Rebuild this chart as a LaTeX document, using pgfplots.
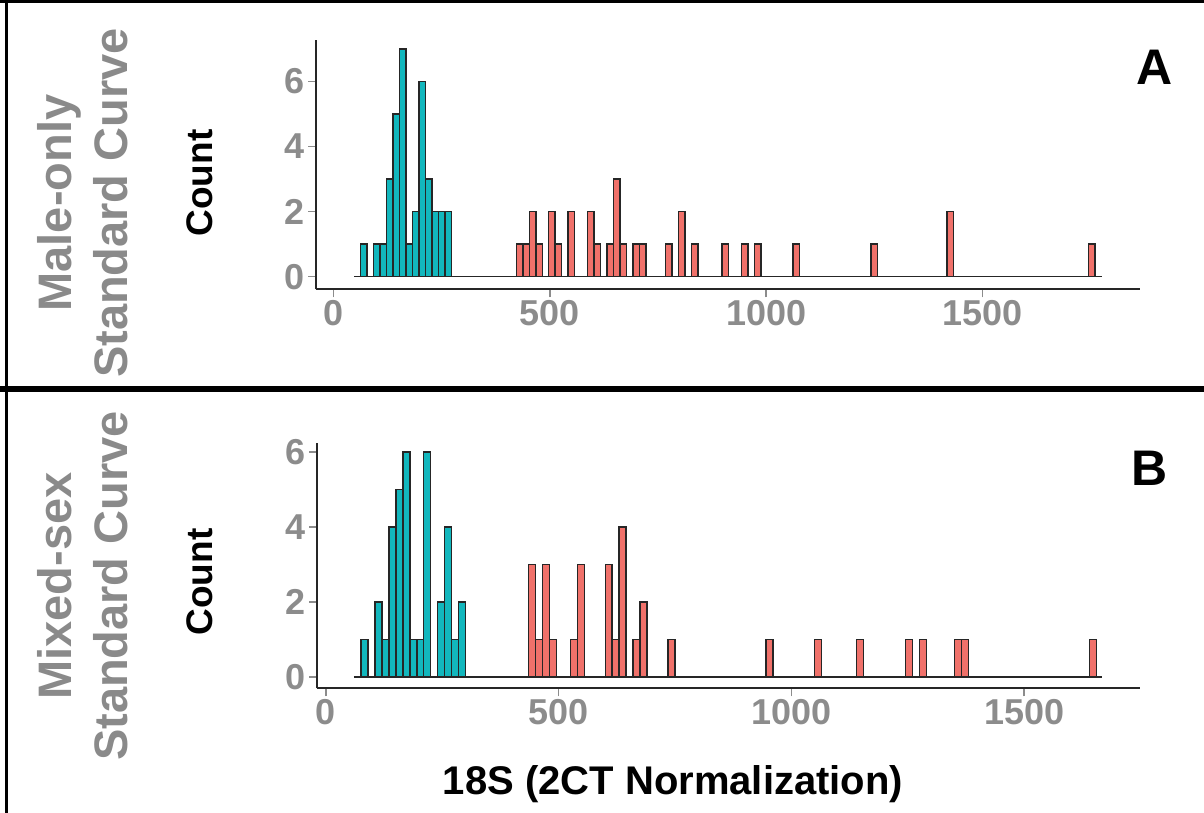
\documentclass[border=0pt]{standalone}
\usepackage{fontspec}
\setmainfont{Liberation Sans}
\usepackage{pgfplots}
\pgfplotsset{compat=1.18}
\usepackage{pgfplotstable}

\definecolor{tealbar}{RGB}{18,183,189}
\definecolor{redbar}{RGB}{240,113,106}
\definecolor{ticktext}{RGB}{140,140,140}
\definecolor{sidetext}{RGB}{138,138,138}

% panel A: male-only standard curve (bin centres, counts)
\pgfplotstableread{
x n
70 1
100 1
115 1
130 3
145 5
160 7
175 1
190 2
205 6
220 3
235 2
250 2
265 2
}\maleblue
\pgfplotstableread{
x n
430 1
445 1
460 2
475 1
505 2
520 1
550 2
595 2
610 1
640 1
655 3
670 1
700 1
715 1
775 1
805 2
835 1
905 1
950 1
980 1
1070 1
1250 1
1425 2
1752 1
}\malered

% panel B: mixed-sex standard curve
\pgfplotstableread{
x n
82.5 1
112.5 2
127.5 1
142.5 4
157.5 5
172.5 6
187.5 1
202.5 1
217.5 6
247.5 2
262.5 4
277.5 1
292.5 2
}\mixblue
\pgfplotstableread{
x n
442.5 3
457.5 1
472.5 3
487.5 1
532.5 1
547.5 3
607.5 3
622.5 1
637.5 4
667.5 1
682.5 2
742.5 1
952.5 1
1057.5 1
1147.5 1
1252.5 1
1282.5 1
1357.5 1
1372.5 1
1647.5 1
}\mixred

\pgfplotsset{
  histpanel/.style={
    scale only axis, anchor=south west,
    axis x line*=bottom, axis y line*=left,
    axis line style={-, black!85, line width=2pt},
    tick style={ticktext, line width=1.5pt},
    major tick length=8pt,
    tick align=outside,
    xtick={0,500,1000,1500}, ytick={0,2,4,6},
    /pgf/number format/assume math mode=true,
    /pgf/number format/1000 sep={},
    ticklabel style={font=\bfseries\fontsize{36}{36}\selectfont, text=ticktext},
    clip=false,
  },
  hbars/.style={ybar, bar width=15, bar shift=0pt, draw=black!85, line width=1.5pt},
}

\begin{document}
\begin{tikzpicture}
\useasboundingbox (0,0) rectangle (1204pt,-813pt);

% frame and separator
\draw[line width=3pt] (0,-1.5pt) -- (1204pt,-1.5pt);
\draw[line width=3pt] (6pt,0) -- (6pt,-813pt);
\draw[line width=6pt] (0,-388.5pt) -- (1204pt,-388.5pt);

% panel A
\begin{axis}[histpanel, at={(316pt,-289.3pt)}, width=824pt, height=249.3pt,
  xmin=-40.4, xmax=1864, ymin=-0.39, ymax=7.28]
\addplot[black!85, line width=1.5pt] coordinates {(47.5,0) (1775,0)};
\addplot[hbars, fill=tealbar] table[x=x, y=n] {\maleblue};
\addplot[hbars, fill=redbar] table[x=x, y=n] {\malered};
\end{axis}

% panel B
\begin{axis}[histpanel, at={(317.3pt,-688.3pt)}, width=822.7pt, height=245.3pt,
  xmin=-18.7, xmax=1749, ymin=-0.3, ymax=6.24]
\addplot[black!85, line width=1.5pt] coordinates {(60,0) (1667,0)};
\addplot[hbars, fill=tealbar] table[x=x, y=n] {\mixblue};
\addplot[hbars, fill=redbar] table[x=x, y=n] {\mixred};
\end{axis}

% labels
\node[rotate=90, font=\bfseries\fontsize{37}{37}\selectfont] at (200pt,-183pt) {Count};
\node[rotate=90, font=\bfseries\fontsize{37}{37}\selectfont] at (200pt,-582pt) {Count};
\node[rotate=90, align=center, text=sidetext, font=\bfseries\fontsize{47}{56}\selectfont]
  at (83pt,-203pt) {Male-only\\Standard Curve};
\node[rotate=90, align=center, text=sidetext, font=\bfseries\fontsize{47}{56}\selectfont]
  at (83pt,-586pt) {Mixed-sex\\Standard Curve};
\node[font=\bfseries\fontsize{50}{50}\selectfont] at (1155pt,-67pt) {A};
\node[font=\bfseries\fontsize{50}{50}\selectfont] at (1150pt,-468pt) {B};
\node[font=\bfseries\fontsize{40}{40}\selectfont] at (673pt,-784pt) {18S (2CT Normalization)};
\end{tikzpicture}
\end{document}
